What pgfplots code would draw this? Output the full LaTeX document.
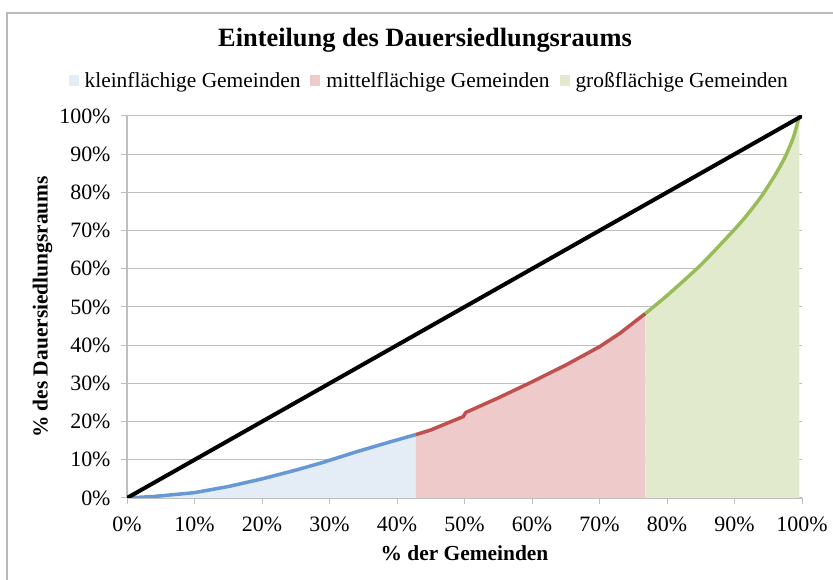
\documentclass[border=0pt]{standalone}
\usepackage{fontspec}
\setmainfont{Liberation Serif}
\usepackage{pgfplots}
\pgfplotsset{compat=1.18}
\definecolor{blueline}{RGB}{102,153,212}
\definecolor{redline}{RGB}{192,80,77}
\definecolor{greenline}{RGB}{155,187,89}
\definecolor{bluefill}{RGB}{228,236,246}
\definecolor{redfill}{RGB}{238,202,202}
\definecolor{greenfill}{RGB}{226,234,206}
\definecolor{gridgray}{RGB}{190,190,190}
\definecolor{framegray}{RGB}{185,185,185}
\begin{document}
\begin{tikzpicture}[x=1bp,y=1bp]
\path[use as bounding box] (0,0) rectangle (833,580);
\draw[framegray, line width=2.5bp] (7,-10) -- (7,567) -- (845,567);
\node[font=\fontsize{26.5}{30}\selectfont\bfseries] at (425,540) {Einteilung des Dauersiedlungsraums};
\begin{axis}[
  at={(127bp,82bp)}, anchor=south west,
  scale only axis, width=675bp, height=382bp,
  xmin=0, xmax=100, ymin=0, ymax=100,
  xtick={0,10,...,100}, ytick={0,10,...,100},
  xticklabel={\pgfmathprintnumber[assume math mode=true]{\tick}\%},
  yticklabel={\pgfmathprintnumber[assume math mode=true]{\tick}\%},
  ticklabel style={font=\fontsize{22}{24}\selectfont},
  xticklabel style={yshift=-9bp},
  yticklabel style={xshift=-7bp},
  axis x line=bottom, axis y line=left,
  axis line style={-, draw=gridgray, line width=1.2bp},
  tick style={draw=gridgray, line width=1bp},
  tick align=outside, major tick length=6bp,
  ymajorgrids, grid style={draw=gridgray, line width=1bp},
  xlabel={\% der Gemeinden},
  ylabel={\% des Dauersiedlungsraums},
  label style={font=\fontsize{21.5}{24}\selectfont\bfseries},
  xlabel style={at={(axis description cs:0.5,-0.144)}, anchor=center},
  ylabel style={at={(axis description cs:-0.125,0.5)}, anchor=center},
  legend columns=3,
  legend style={at={(axis description cs:0.447,1.0916)}, anchor=center, draw=none, fill=none,
    font=\fontsize{21.5}{24}\selectfont, inner sep=0pt,
    nodes={inner sep=1bp},
    /tikz/every odd column/.append style={column sep=5bp},
    /tikz/every even column/.append style={column sep=9bp}},
  legend cell align=left,
  legend image code/.code={\fill[#1] (0bp,-5bp) rectangle (10bp,6bp);},
]
\addplot[draw=none, fill=bluefill] coordinates {
(0,0) (4,0.4) (10,1.4) (15,3.0) (20,5.0) (25,7.3) (29,9.3) (34,12.1) (39,14.7) (42.8,16.6)} \closedcycle;
\addlegendentry{kleinflächige Gemeinden}
\addplot[draw=none, fill=redfill] coordinates {
(42.8,16.6) (45,17.8) (48,20.0) (49.8,21.3) (50.2,22.4) (55,26.2) (60,30.4) (65,34.8) (70,39.6) (73,43.1) (76.8,48.3)} \closedcycle;
\addlegendentry{mittelflächige Gemeinden}
\addplot[draw=none, fill=greenfill, smooth, tension=0.4] coordinates {
(76.8,48.3) (80,53.0) (85,61.0) (90,70.3) (92,74.4) (94,79.0) (96,84.5) (97.5,89.3) (98.7,94.3) (99.6,100)} \closedcycle;
\addlegendentry{großflächige Gemeinden}
\addplot[blueline, line width=3.5bp, forget plot] coordinates {
(0,0) (4,0.4) (10,1.4) (15,3.0) (20,5.0) (25,7.3) (29,9.3) (34,12.1) (39,14.7) (42.8,16.6)};
\addplot[redline, line width=3.5bp, forget plot] coordinates {
(42.8,16.6) (45,17.8) (48,20.0) (49.8,21.3) (50.2,22.4) (55,26.2) (60,30.4) (65,34.8) (70,39.6) (73,43.1) (76.8,48.3)};
\addplot[greenline, line width=3.5bp, forget plot, smooth, tension=0.4] coordinates {
(76.8,48.3) (80,53.0) (85,61.0) (90,70.3) (92,74.4) (94,79.0) (96,84.5) (97.5,89.3) (98.7,94.3) (99.6,100)};
\addplot[black, line width=4bp, forget plot] coordinates {(0,0) (100,100)};
\end{axis}
\end{tikzpicture}
\end{document}
